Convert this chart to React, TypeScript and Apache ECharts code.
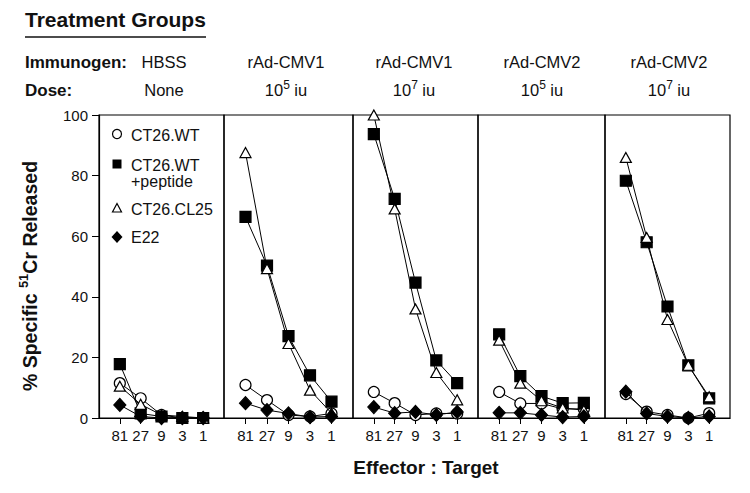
import React, { useEffect, useRef } from "react";
import * as echarts from "echarts";

// ---- data ----
const ratioLabels = ["81", "27", "9", "3", "1"];
const immunogens = ["HBSS", "rAd-CMV1", "rAd-CMV1", "rAd-CMV2", "rAd-CMV2"];
const doses = ["None", "10{sup|5} iu", "10{sup|7} iu", "10{sup|5} iu", "10{sup|7} iu"];
const seriesNames = ["CT26.WT", "CT26.WT +peptide", "CT26.CL25", "E22"];

// values per panel (HBSS, CMV1 1e5, CMV1 1e7, CMV2 1e5, CMV2 1e7)
const ct26wt = [
  [11.5, 6.5, 1, 0, 0],
  [10.9, 5.9, 1, 0.5, 1.5],
  [8.6, 4.9, 1, 1.5, 1.5],
  [8.6, 4.8, 4.8, 3, 3],
  [7.9, 2.1, 1, 0, 1.6],
];
const ct26wtPeptide = [
  [17.8, 1.5, 0.5, 0, 0],
  [66.4, 50.3, 27, 14.1, 5.4],
  [93.7, 72.3, 44.7, 19, 11.5],
  [27.6, 13.8, 7.2, 4.9, 5],
  [78.3, 58, 36.8, 17.4, 6.5],
];
const ct26cl25 = [
  [10.5, 4.5, 1, 0.5, 0],
  [87.6, 49.3, 24.6, 9.2, 1.6],
  [100, 69, 36, 15, 6],
  [25.7, 11.5, 5.7, 3.3, 2.6],
  [86, 59.6, 32.5, 17.4, 7],
];
const e22 = [
  [4.3, 0.5, 0, 0, 0],
  [4.9, 2.6, 1.5, 0.3, 0.5],
  [3.6, 1.6, 2, 1, 2],
  [1.7, 1.7, 1, 0.3, 0.5],
  [8.7, 1.5, 0.5, 0, 0.5],
];
const yTicks = [0, 20, 40, 60, 80, 100];

// ---- layout ----
const FONT = '"Liberation Sans", Arial, Helvetica, sans-serif';
const panelLefts = [99, 224, 353, 478, 605];
const panelWidths = [125, 129, 125, 127, 125];
const GRID_TOP = 115;
const GRID_H = 303;
const headerX = [164, 286, 414, 542, 669];

const styles = [
  { symbol: "circle", size: 11, fill: "#fff" },
  { symbol: "rect", size: 11, fill: "#000" },
  { symbol: "triangle", size: [11, 10], fill: "#fff" },
  { symbol: "diamond", size: [12, 13], fill: "#000" },
];
const allData = [ct26wt, ct26wtPeptide, ct26cl25, e22];

export default function App() {
  const ref = useRef<HTMLDivElement>(null);
  useEffect(() => {
    if (!ref.current) return;
    const chart = echarts.init(ref.current, undefined, { renderer: "svg" });

    const grids = panelLefts.map((l, i) => ({
      left: l,
      top: GRID_TOP,
      width: panelWidths[i],
      height: GRID_H,
      show: true,
      borderColor: "#000",
      borderWidth: 1.2,
      backgroundColor: "transparent",
    }));

    const xAxes = panelLefts.map((_, i) => ({
      type: "value",
      gridIndex: i,
      min: -1,
      max: 5,
      interval: 1,
      splitLine: { show: false },
      axisLine: { show: true, onZero: false, lineStyle: { color: "#000", width: 1.2 } },
      axisTick: {
        show: true,
        customValues: [0, 1, 2, 3, 4],
        length: 6,
        lineStyle: { color: "#000", width: 1 },
      },
      axisLabel: {
        customValues: [0, 1, 2, 3, 4],
        formatter: (v: number) => ratioLabels[v] ?? "",
        fontSize: 15,
        fontFamily: FONT,
        color: "#111",
        margin: 10,
      },
    }));

    const yAxes = panelLefts.map((_, i) => ({
      type: "value",
      gridIndex: i,
      min: yTicks[0],
      max: yTicks[yTicks.length - 1],
      interval: 20,
      show: i === 0,
      splitLine: { show: false },
      axisLine: { show: true, onZero: false, lineStyle: { color: "#000", width: 1.2 } },
      axisTick: { show: true, length: 7, lineStyle: { color: "#000", width: 1 } },
      axisLabel: {
        fontSize: 15,
        fontFamily: FONT,
        color: "#111",
        margin: 11,
      },
    }));

    const series: any[] = [];
    panelLefts.forEach((_, p) => {
      allData.forEach((arr, s) => {
        const st = styles[s];
        series.push({
          type: "line",
          name: seriesNames[s],
          xAxisIndex: p,
          yAxisIndex: p,
          data: arr[p].map((v, j) => [j, v]),
          symbol: st.symbol,
          symbolSize: st.size,
          showAllSymbol: true,
          clip: false,
          silent: true,
          lineStyle: { color: "#000", width: 1 },
          itemStyle: { color: st.fill, borderColor: "#000", borderWidth: 1.2, opacity: 1 },
          emphasis: { disabled: true },
          z: 2 + s,
        });
      });
    });

    const textStyle = (extra: any) => ({
      fontFamily: FONT,
      fill: "#111",
      ...extra,
    });

    const graphic: any[] = [
      {
        type: "text",
        left: 25,
        top: 9,
        style: textStyle({ text: "Treatment Groups", fontSize: 21, fontWeight: "bold" }),
      },
      {
        type: "line",
        shape: { x1: 25, y1: 37, x2: 206, y2: 37 },
        style: { stroke: "#111", lineWidth: 1.5 },
      },
      {
        type: "text",
        x: 25,
        y: 62,
        style: textStyle({ text: "Immunogen:", fontSize: 17, fontWeight: "bold", verticalAlign: "middle" }),
      },
      {
        type: "text",
        x: 25,
        y: 90,
        style: textStyle({ text: "Dose:", fontSize: 17, fontWeight: "bold", verticalAlign: "middle" }),
      },
      ...immunogens.map((t, i) => ({
        type: "text",
        x: headerX[i],
        y: 62,
        style: textStyle({ text: t, fontSize: 16.5, align: "center", verticalAlign: "middle" }),
      })),
      ...doses.map((t, i) => ({
        type: "text",
        x: headerX[i],
        y: 90,
        style: textStyle({
          text: t,
          fontSize: 16.5,
          align: "center",
          verticalAlign: "middle",
          rich: {
            sup: { fontSize: 12, fontFamily: FONT, fill: "#111", verticalAlign: "top", lineHeight: 12 },
          },
          lineHeight: 22,
        }),
      })),
      {
        type: "text",
        x: 30,
        y: 276,
        rotation: Math.PI / 2,
        style: textStyle({
          text: "% Specific {sup|51}Cr Released",
          fontSize: 19.5,
          fontWeight: "bold",
          align: "center",
          verticalAlign: "middle",
          lineHeight: 26,
          rich: {
            sup: { fontSize: 13, fontWeight: "bold", fontFamily: FONT, fill: "#111", verticalAlign: "top", lineHeight: 14 },
          },
        }),
      },
      {
        type: "text",
        x: 426,
        y: 467,
        style: textStyle({ text: "Effector : Target", fontSize: 19, fontWeight: "bold", align: "center", verticalAlign: "middle" }),
      },
      // legend
      { type: "circle", shape: { cx: 117, cy: 134, r: 4.5 }, style: { fill: "#fff", stroke: "#000", lineWidth: 1.2 } },
      { type: "rect", shape: { x: 112.5, y: 159.5, width: 9, height: 9 }, style: { fill: "#000" } },
      {
        type: "polygon",
        shape: { points: [[117, 203.5], [121.5, 212], [112.5, 212]] },
        style: { fill: "#fff", stroke: "#000", lineWidth: 1.2 },
      },
      {
        type: "polygon",
        shape: { points: [[117, 231], [122.5, 237], [117, 243], [111.5, 237]] },
        style: { fill: "#000" },
      },
      { type: "text", x: 131, y: 135, style: textStyle({ text: "CT26.WT", fontSize: 16, verticalAlign: "middle" }) },
      { type: "text", x: 131, y: 165, style: textStyle({ text: "CT26.WT", fontSize: 16, verticalAlign: "middle" }) },
      { type: "text", x: 131, y: 181, style: textStyle({ text: "+peptide", fontSize: 16, verticalAlign: "middle" }) },
      { type: "text", x: 131, y: 209, style: textStyle({ text: "CT26.CL25", fontSize: 16, verticalAlign: "middle" }) },
      { type: "text", x: 131, y: 237, style: textStyle({ text: "E22", fontSize: 16, verticalAlign: "middle" }) },
    ];

    chart.setOption({
      animation: false,
      backgroundColor: "#fff",
      grid: grids,
      xAxis: xAxes,
      yAxis: yAxes,
      series,
      graphic,
    });
    return () => chart.dispose();
  }, []);
  return (
    <div
      ref={ref}
      style={{ position: "fixed", left: 0, top: 0, width: 750, height: 493, background: "#fff" }}
    />
  );
}
